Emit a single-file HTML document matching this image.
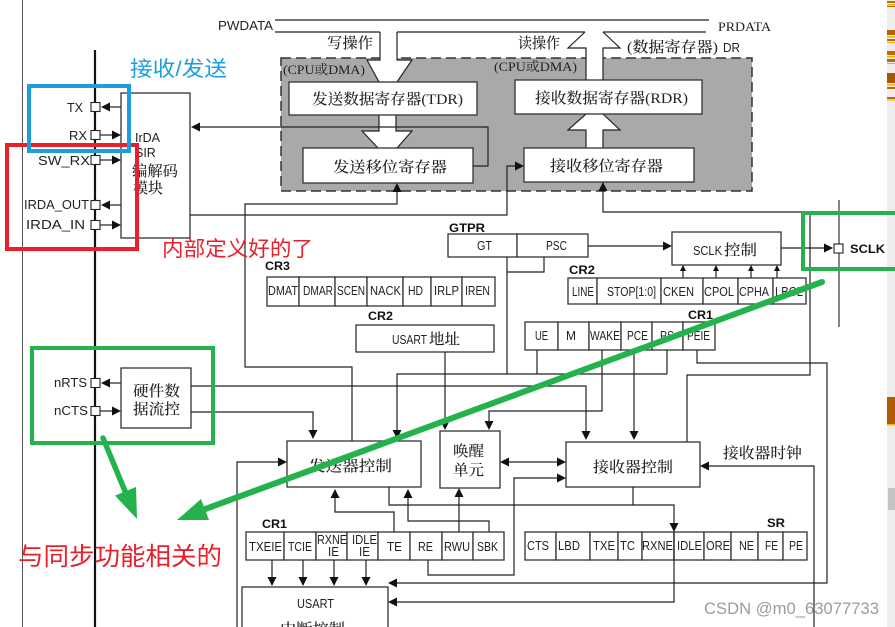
<!DOCTYPE html>
<html><head><meta charset="utf-8">
<style>
html,body{margin:0;padding:0;background:#fff;}
svg{display:block;}
.l{fill:none;stroke:#222;stroke-width:1.2;}
.b{fill:#fff;stroke:#333;stroke-width:1.3;}
.a{fill:#111;stroke:none;}
.r{font-family:"Liberation Sans",sans-serif;font-size:12.5px;fill:#222;}
.c{font-family:"Liberation Serif","Noto Serif CJK SC",serif;font-size:15px;fill:#222;font-weight:500;}
.s{font-family:"Liberation Serif","Noto Serif CJK SC",serif;font-size:13px;fill:#222;}
.bd{font-family:"Liberation Sans",sans-serif;font-weight:bold;font-size:12px;fill:#111;}
.ann{font-family:"Liberation Sans","Noto Sans CJK SC",sans-serif;}
</style></head><body>
<svg width="895" height="627" viewBox="0 0 895 627" xmlns="http://www.w3.org/2000/svg">
<rect width="895" height="627" fill="#fff"/>

<!-- right strip -->
<rect x="887" y="0" width="8" height="627" fill="#ededed"/>
<rect x="887" y="1" width="8" height="2" fill="#c06a00"/>
<rect x="887" y="4" width="8" height="1.5" fill="#e8b400"/>
<rect x="887" y="6" width="8" height="1" fill="#c06a00"/>
<rect x="887" y="30" width="8" height="5" fill="#b45f00"/>
<rect x="887" y="36" width="8" height="1.5" fill="#e8b400"/>
<rect x="887" y="39" width="8" height="2" fill="#c06a00"/>
<rect x="887" y="42" width="8" height="1" fill="#e8b400"/>
<rect x="887" y="51" width="8" height="4" fill="#c06a00"/>
<rect x="887" y="56" width="8" height="1.5" fill="#e8b400"/>
<rect x="887" y="59" width="8" height="3" fill="#c06a00"/>
<rect x="887" y="63" width="8" height="1" fill="#e8b400"/>
<rect x="887" y="73" width="8" height="10" fill="#a85800"/>
<rect x="887" y="84" width="8" height="1.5" fill="#e8b400"/>
<rect x="887" y="87" width="8" height="2" fill="#c06a00"/>
<rect x="887" y="97" width="8" height="2" fill="#c06a00"/>
<rect x="887" y="99.5" width="8" height="1" fill="#e8b400"/>
<rect x="887" y="397" width="8" height="27" fill="#b05c00"/>
<rect x="887" y="424" width="8" height="1.5" fill="#e8c000"/>
<rect x="888" y="488" width="7" height="22" fill="#c4c4c4"/>

<!-- left lines -->
<line x1="22.5" y1="0" x2="22.5" y2="627" stroke="#555" stroke-width="1"/>
<line x1="95" y1="50" x2="95" y2="627" stroke="#111" stroke-width="2.2"/>

<!-- bus -->
<line x1="275" y1="20" x2="709" y2="20" class="l"/>
<path class="l" d="M275 32H380M397 32H585M603 32H706"/>
<text x="218" y="30" class="r" textLength="55" lengthAdjust="spacingAndGlyphs">PWDATA</text>
<text x="718" y="31" font-family="Liberation Serif" font-size="13" fill="#222" textLength="53" lengthAdjust="spacingAndGlyphs">PRDATA</text>
<text x="327" y="48" class="c" textLength="46" lengthAdjust="spacingAndGlyphs">写操作</text>
<text x="518" y="48" class="c" textLength="42" lengthAdjust="spacingAndGlyphs">读操作</text>
<text x="627" y="52" class="c" textLength="91" lengthAdjust="spacingAndGlyphs">(数据寄存器)</text>
<text x="723" y="52" class="r" font-size="11" textLength="17" lengthAdjust="spacingAndGlyphs">DR</text>

<!-- gray area -->
<rect x="281" y="58" width="471" height="133" fill="#a9a9a9" stroke="#333" stroke-width="1.5" stroke-dasharray="10 5"/>
<text x="283" y="74" class="s" textLength="82" lengthAdjust="spacingAndGlyphs">(CPU或DMA)</text>
<text x="494" y="71" class="s" textLength="83" lengthAdjust="spacingAndGlyphs">(CPU或DMA)</text>

<!-- block arrows -->
<polygon points="380,32 380,60 367,60 379,82 397,82 412,60 397,60 397,32" fill="#fff"/>
<polyline class="l" points="380,32 380,60 367,60 379,82"/>
<polyline class="l" points="397,32 397,60 412,60 397,82"/>
<polygon points="586,80 586,48 568,48 585,32 603,32 620,48 603,48 603,80" fill="#fff"/>
<polyline class="l" points="586,80 586,48 568,48 585,32"/>
<polyline class="l" points="603,80 603,48 620,48 603,32"/>
<polygon points="379,115 379,131 362,131 378,148 397,148 412,131 396,131 396,115" fill="#fff"/>
<polyline class="l" points="379,115 379,131 362,131 378,148"/>
<polyline class="l" points="396,115 396,131 412,131 397,148"/>
<polygon points="586,148 586,130 568,130 586,114 603,114 620,130 603,130 603,148" fill="#fff"/>
<polyline class="l" points="586,148 586,130 568,130 586,114"/>
<polyline class="l" points="603,148 603,130 620,130 603,114"/>

<!-- gray boxes -->
<rect class="b" x="289" y="82" width="188" height="33"/>
<rect class="b" x="303" y="148" width="170" height="35"/>
<rect class="b" x="515" y="80" width="187" height="34"/>
<rect class="b" x="524" y="148" width="170" height="34"/>
<text x="312" y="104" class="c" textLength="151" lengthAdjust="spacingAndGlyphs">发送数据寄存器(TDR)</text>
<text x="333" y="172" class="c" textLength="114" lengthAdjust="spacingAndGlyphs">发送移位寄存器</text>
<text x="535" y="103" class="c" textLength="153" lengthAdjust="spacingAndGlyphs">接收数据寄存器(RDR)</text>
<text x="550" y="171" class="c" textLength="113" lengthAdjust="spacingAndGlyphs">接收移位寄存器</text>

<!-- IrDA box -->
<rect class="b" x="121" y="93" width="69" height="145"/>
<text x="135" y="142" class="r" font-size="13.5">IrDA</text>
<text x="135" y="157" class="r" font-size="13.5">SIR</text>
<text x="132" y="176" class="c" textLength="46" lengthAdjust="spacingAndGlyphs">编解码</text>
<text x="133" y="193" class="c" textLength="30" lengthAdjust="spacingAndGlyphs">模块</text>

<!-- pins -->
<g class="l">
<line x1="110" y1="107" x2="121" y2="107"/>
<line x1="100" y1="135" x2="112" y2="135"/>
<line x1="100" y1="160" x2="112" y2="160"/>
<line x1="110" y1="205" x2="121" y2="205"/>
<line x1="100" y1="225" x2="112" y2="225"/>
<line x1="110" y1="383" x2="121" y2="383"/>
<line x1="100" y1="411" x2="112" y2="411"/>
</g>
<polygon class="a" points="101,107 110,102.5 110,111.5"/>
<polygon class="a" points="121,135 112,130.5 112,139.5"/>
<polygon class="a" points="121,160 112,155.5 112,164.5"/>
<polygon class="a" points="101,205 110,200.5 110,209.5"/>
<polygon class="a" points="121,225 112,220.5 112,229.5"/>
<polygon class="a" points="101,383 110,378.5 110,387.5"/>
<polygon class="a" points="121,411 112,406.5 112,415.5"/>
<g fill="#fff" stroke="#222" stroke-width="1.1">
<rect x="91" y="102.5" width="9" height="9"/>
<rect x="91" y="130.5" width="9" height="9"/>
<rect x="91" y="155.5" width="9" height="9"/>
<rect x="91" y="200.5" width="9" height="9"/>
<rect x="91" y="220.5" width="9" height="9"/>
<rect x="91" y="378.5" width="9" height="9"/>
<rect x="91" y="406.5" width="9" height="9"/>
</g>
<text x="67" y="112" class="r" textLength="16" lengthAdjust="spacingAndGlyphs">TX</text>
<text x="69" y="140" class="r" textLength="18" lengthAdjust="spacingAndGlyphs">RX</text>
<text x="38" y="165" class="r" textLength="52" lengthAdjust="spacingAndGlyphs">SW_RX</text>
<text x="24" y="209" class="r" textLength="65" lengthAdjust="spacingAndGlyphs">IRDA_OUT</text>
<text x="26" y="229" class="r" textLength="59" lengthAdjust="spacingAndGlyphs">IRDA_IN</text>
<text x="54" y="387" class="r" textLength="33" lengthAdjust="spacingAndGlyphs">nRTS</text>
<text x="54" y="415" class="r" textLength="34" lengthAdjust="spacingAndGlyphs">nCTS</text>

<!-- hardware flow box -->
<rect class="b" x="121" y="368" width="70" height="60"/>
<text x="133" y="396" class="c" textLength="47" lengthAdjust="spacingAndGlyphs">硬件数</text>
<text x="133" y="414" class="c" textLength="47" lengthAdjust="spacingAndGlyphs">据流控</text>

<!-- top connectors -->
<polyline class="l" points="473,166 488,166 488,127 200,127"/>
<polygon class="a" points="191,127 200,122.5 200,131.5"/>
<polyline class="l" points="190,215 507,215 507,166 515,166"/>
<polygon class="a" points="524,166 515,161.5 515,170.5"/>
<polyline class="l" points="352,441 352,367 245,367 245,204 397,204 397,192"/>
<polygon class="a" points="397,183 392.5,192 401.5,192"/>
<polyline class="l" points="687,442 687,375 810,375 810,212 603,212 603,191"/>
<polygon class="a" points="603,182 598.5,191 607.5,191"/>

<!-- GTPR -->
<text x="449" y="232" class="bd" textLength="36" lengthAdjust="spacingAndGlyphs">GTPR</text>
<rect class="b" x="448" y="234" width="69" height="23"/>
<rect class="b" x="517" y="234" width="71" height="23"/>
<text x="477" y="250" class="r" textLength="15" lengthAdjust="spacingAndGlyphs">GT</text>
<text x="546" y="250" class="r" textLength="21" lengthAdjust="spacingAndGlyphs">PSC</text>
<polyline class="l" points="507,257 507,374"/>
<polyline class="l" points="507,272 544,272 544,257"/>
<line class="l" x1="588" y1="246" x2="663" y2="246"/>
<polygon class="a" points="672,246 663,241.5 663,250.5"/>

<!-- SCLK -->
<rect class="b" x="672" y="232" width="109" height="33"/>
<text x="693" y="255" class="r" font-size="12" textLength="29" lengthAdjust="spacingAndGlyphs">SCLK</text>
<text x="724" y="255" class="c" font-size="16" textLength="33" lengthAdjust="spacingAndGlyphs">控制</text>
<line class="l" x1="781" y1="248" x2="824" y2="248"/>
<polygon class="a" points="833,248 824,243.5 824,252.5"/>
<line x1="839" y1="200" x2="839" y2="327" stroke="#333" stroke-width="1.2"/>
<rect x="834" y="244" width="9" height="9" fill="#fff" stroke="#222" stroke-width="1.1"/>
<text x="850" y="253" class="bd" font-size="12.5" textLength="35" lengthAdjust="spacingAndGlyphs">SCLK</text>
<g class="l">
<line x1="683" y1="271" x2="683" y2="278"/>
<line x1="716" y1="271" x2="716" y2="278"/>
<line x1="751" y1="271" x2="751" y2="278"/>
<line x1="777" y1="271" x2="777" y2="278"/>
</g>
<polygon class="a" points="683,265 680,271 686,271"/>
<polygon class="a" points="716,265 713,271 719,271"/>
<polygon class="a" points="751,265 748,271 754,271"/>
<polygon class="a" points="777,265 774,271 780,271"/>

<!-- CR3 -->
<text x="265" y="270" class="bd" textLength="25" lengthAdjust="spacingAndGlyphs">CR3</text>
<g class="b">
<rect x="267" y="277" width="32" height="29"/>
<rect x="299" y="277" width="36" height="29"/>
<rect x="335" y="277" width="32" height="29"/>
<rect x="367" y="277" width="36" height="29"/>
<rect x="403" y="277" width="28" height="29"/>
<rect x="431" y="277" width="31" height="29"/>
<rect x="462" y="277" width="33" height="29"/>
</g>
<text x="268" y="295" class="r" textLength="30" lengthAdjust="spacingAndGlyphs">DMAT</text>
<text x="303" y="295" class="r" textLength="30" lengthAdjust="spacingAndGlyphs">DMAR</text>
<text x="337" y="295" class="r" textLength="28" lengthAdjust="spacingAndGlyphs">SCEN</text>
<text x="370" y="295" class="r" textLength="31" lengthAdjust="spacingAndGlyphs">NACK</text>
<text x="408" y="295" class="r" textLength="15" lengthAdjust="spacingAndGlyphs">HD</text>
<text x="434" y="295" class="r" textLength="25" lengthAdjust="spacingAndGlyphs">IRLP</text>
<text x="465" y="295" class="r" textLength="25" lengthAdjust="spacingAndGlyphs">IREN</text>

<!-- CR2 mid -->
<text x="368" y="320" class="bd" textLength="25" lengthAdjust="spacingAndGlyphs">CR2</text>
<rect class="b" x="356" y="325" width="138" height="27"/>
<text x="392" y="344" class="r" font-size="12" textLength="35" lengthAdjust="spacingAndGlyphs">USART</text>
<text x="429" y="344" class="c" font-size="16" textLength="31" lengthAdjust="spacingAndGlyphs">地址</text>

<!-- CR2 right -->
<text x="569" y="274" class="bd" textLength="26" lengthAdjust="spacingAndGlyphs">CR2</text>
<g class="b">
<rect x="568" y="278" width="29" height="26"/>
<rect x="597" y="278" width="64" height="26"/>
<rect x="661" y="278" width="42" height="26"/>
<rect x="703" y="278" width="35" height="26"/>
<rect x="738" y="278" width="35" height="26"/>
<rect x="773" y="278" width="33" height="26"/>
</g>
<text x="572" y="296" class="r" textLength="22" lengthAdjust="spacingAndGlyphs">LINE</text>
<text x="607" y="296" class="r" textLength="49" lengthAdjust="spacingAndGlyphs">STOP[1:0]</text>
<text x="663" y="296" class="r" textLength="31" lengthAdjust="spacingAndGlyphs">CKEN</text>
<text x="704" y="296" class="r" textLength="30" lengthAdjust="spacingAndGlyphs">CPOL</text>
<text x="739" y="296" class="r" textLength="30" lengthAdjust="spacingAndGlyphs">CPHA</text>
<text x="775" y="296" class="r" textLength="28" lengthAdjust="spacingAndGlyphs">LBCL</text>

<!-- CR1 right -->
<text x="688" y="319" class="bd" textLength="25" lengthAdjust="spacingAndGlyphs">CR1</text>
<g class="b">
<rect x="525" y="322" width="33" height="28"/>
<rect x="558" y="322" width="31" height="28"/>
<rect x="589" y="322" width="32" height="28"/>
<rect x="621" y="322" width="31" height="28"/>
<rect x="652" y="322" width="31" height="28"/>
<rect x="683" y="322" width="32" height="28"/>
</g>
<text x="535" y="340" class="r" textLength="13" lengthAdjust="spacingAndGlyphs">UE</text>
<text x="566" y="340" class="r" textLength="10" lengthAdjust="spacingAndGlyphs">M</text>
<text x="590" y="340" class="r" textLength="30" lengthAdjust="spacingAndGlyphs">WAKE</text>
<text x="627" y="340" class="r" textLength="21" lengthAdjust="spacingAndGlyphs">PCE</text>
<text x="660" y="340" class="r" textLength="14" lengthAdjust="spacingAndGlyphs">PS</text>
<text x="687" y="340" class="r" textLength="23" lengthAdjust="spacingAndGlyphs">PEIE</text>

<!-- middle connectors -->
<polyline class="l" points="537,350 537,374"/>
<polyline class="l" points="667,350 667,374"/>
<polyline class="l" points="667,374 397,374 397,430"/>
<polygon class="a" points="397,439 392.5,430 401.5,430"/>
<polyline class="l" points="602,350 602,411 489,411 489,421"/>
<polygon class="a" points="489,430 484.5,421 493.5,421"/>
<polyline class="l" points="445,352 445,421"/>
<polygon class="a" points="445,430 440.5,421 449.5,421"/>
<polyline class="l" points="634,350 634,431"/>
<polygon class="a" points="634,440 629.5,431 638.5,431"/>
<polyline class="l" points="697,350 697,363 827,363 827,583 397,583"/>
<polygon class="a" points="388,583 397,578.5 397,587.5"/>
<polyline class="l" points="191,386 586,386 586,431"/>
<polygon class="a" points="586,440 581.5,431 590.5,431"/>
<polyline class="l" points="191,412 313,412 313,430"/>
<polygon class="a" points="313,439 308.5,430 317.5,430"/>

<!-- control boxes -->
<rect class="b" x="287" y="441" width="134" height="46"/>
<text x="309" y="471" class="c" textLength="83" lengthAdjust="spacingAndGlyphs">发送器控制</text>
<rect class="b" x="440" y="431" width="60" height="57"/>
<text x="453" y="456" class="c" textLength="31" lengthAdjust="spacingAndGlyphs">唤醒</text>
<text x="453" y="475" class="c" textLength="31" lengthAdjust="spacingAndGlyphs">单元</text>
<rect class="b" x="566" y="442" width="134" height="45"/>
<text x="593" y="472" class="c" textLength="80" lengthAdjust="spacingAndGlyphs">接收器控制</text>
<text x="723" y="458" class="c" textLength="79" lengthAdjust="spacingAndGlyphs">接收器时钟</text>

<!-- lower connectors -->
<line class="l" x1="509" y1="462" x2="557" y2="462"/>
<polygon class="a" points="500,462 509,457.5 509,466.5"/>
<polygon class="a" points="566,462 557,457.5 557,466.5"/>
<polyline class="l" points="428,560 428,575 514,575 514,478 557,478"/>
<polygon class="a" points="566,478 557,473.5 557,482.5"/>
<polyline class="l" points="814,627 814,466 709,466"/>
<polygon class="a" points="700,466 709,461.5 709,470.5"/>
<polyline class="l" points="237,627 237,462 278,462"/>
<polygon class="a" points="287,462 278,457.5 278,466.5"/>
<polyline class="l" points="389,487 389,505 674,505 674,523"/>
<polygon class="a" points="674,532 669.5,523 678.5,523"/>
<polyline class="l" points="633,487 633,505"/>
<polyline class="l" points="674,532 674,602 397,602"/>
<polygon class="a" points="388,602 397,597.5 397,606.5"/>
<polyline class="l" points="394,532 394,512 335,512 335,498"/>
<polygon class="a" points="335,489 330.5,498 339.5,498"/>
<polyline class="l" points="489,532 489,521 408,521 408,498"/>
<polygon class="a" points="408,489 403.5,498 412.5,498"/>
<polyline class="l" points="459,532 459,497"/>
<polygon class="a" points="459,488 454.5,497 463.5,497"/>

<!-- CR1 bottom -->
<text x="262" y="528" class="bd" textLength="25" lengthAdjust="spacingAndGlyphs">CR1</text>
<g class="b">
<rect x="246" y="532" width="38" height="28"/>
<rect x="284" y="532" width="32" height="28"/>
<rect x="316" y="532" width="31" height="28"/>
<rect x="347" y="532" width="31" height="28"/>
<rect x="378" y="532" width="32" height="28"/>
<rect x="410" y="532" width="32" height="28"/>
<rect x="442" y="532" width="31" height="28"/>
<rect x="473" y="532" width="31" height="28"/>
</g>
<text x="249" y="551" class="r" textLength="33" lengthAdjust="spacingAndGlyphs">TXEIE</text>
<text x="288" y="551" class="r" textLength="24" lengthAdjust="spacingAndGlyphs">TCIE</text>
<text x="317" y="544" class="r" textLength="30" lengthAdjust="spacingAndGlyphs">RXNE</text>
<text x="328" y="556" class="r" textLength="11" lengthAdjust="spacingAndGlyphs">IE</text>
<text x="352" y="544" class="r" textLength="25" lengthAdjust="spacingAndGlyphs">IDLE</text>
<text x="359" y="556" class="r" textLength="11" lengthAdjust="spacingAndGlyphs">IE</text>
<text x="387" y="551" class="r" textLength="15" lengthAdjust="spacingAndGlyphs">TE</text>
<text x="418" y="551" class="r" textLength="15" lengthAdjust="spacingAndGlyphs">RE</text>
<text x="444" y="551" class="r" textLength="26" lengthAdjust="spacingAndGlyphs">RWU</text>
<text x="477" y="551" class="r" textLength="21" lengthAdjust="spacingAndGlyphs">SBK</text>
<g class="l">
<line x1="272" y1="560" x2="272" y2="577"/>
<line x1="303" y1="560" x2="303" y2="577"/>
<line x1="334" y1="560" x2="334" y2="577"/>
<line x1="366" y1="560" x2="366" y2="577"/>
</g>
<polygon class="a" points="272,586 267.5,577 276.5,577"/>
<polygon class="a" points="303,586 298.5,577 307.5,577"/>
<polygon class="a" points="334,586 329.5,577 338.5,577"/>
<polygon class="a" points="366,586 361.5,577 370.5,577"/>

<!-- USART interrupt -->
<rect class="b" x="242" y="587" width="146" height="60"/>
<text x="297" y="608" class="r" textLength="37" lengthAdjust="spacingAndGlyphs">USART</text>
<text x="280" y="634" class="c" font-size="16" textLength="65" lengthAdjust="spacingAndGlyphs">中断控制</text>

<!-- SR -->
<text x="767" y="527" class="bd" textLength="18" lengthAdjust="spacingAndGlyphs">SR</text>
<g class="b">
<rect x="525" y="532" width="31" height="28"/>
<rect x="556" y="532" width="34" height="28"/>
<rect x="590" y="532" width="28" height="28"/>
<rect x="618" y="532" width="24" height="28"/>
<rect x="642" y="532" width="32" height="28"/>
<rect x="674" y="532" width="30" height="28"/>
<rect x="704" y="532" width="27" height="28"/>
<rect x="731" y="532" width="27" height="28"/>
<rect x="758" y="532" width="25" height="28"/>
<rect x="783" y="532" width="24" height="28"/>
</g>
<line class="l" x1="674" y1="532" x2="674" y2="560"/>
<text x="527" y="550" class="r" textLength="22" lengthAdjust="spacingAndGlyphs">CTS</text>
<text x="558" y="550" class="r" textLength="22" lengthAdjust="spacingAndGlyphs">LBD</text>
<text x="593" y="550" class="r" textLength="22" lengthAdjust="spacingAndGlyphs">TXE</text>
<text x="620" y="550" class="r" textLength="15" lengthAdjust="spacingAndGlyphs">TC</text>
<text x="642" y="550" class="r" textLength="31" lengthAdjust="spacingAndGlyphs">RXNE</text>
<text x="677" y="550" class="r" textLength="25" lengthAdjust="spacingAndGlyphs">IDLE</text>
<text x="706" y="550" class="r" textLength="24" lengthAdjust="spacingAndGlyphs">ORE</text>
<text x="739" y="550" class="r" textLength="15" lengthAdjust="spacingAndGlyphs">NE</text>
<text x="765" y="550" class="r" textLength="13" lengthAdjust="spacingAndGlyphs">FE</text>
<text x="789" y="550" class="r" textLength="14" lengthAdjust="spacingAndGlyphs">PE</text>

<!-- watermark -->
<text x="704" y="614" font-family="Liberation Sans, sans-serif" font-size="16.5" fill="#9c9c9c" textLength="175" lengthAdjust="spacingAndGlyphs">CSDN @m0_63077733</text>

<!-- annotations -->
<rect x="7" y="145" width="130" height="104" fill="none" stroke="#e8202a" stroke-width="4"/>
<rect x="29" y="86" width="100" height="65" fill="none" stroke="#1a9ee0" stroke-width="4"/>
<rect x="32" y="348" width="181" height="95" fill="none" stroke="#24b24c" stroke-width="4"/>
<rect x="803" y="213" width="94" height="56" fill="none" stroke="#24b24c" stroke-width="4"/>
<text x="130" y="76" class="ann" font-size="21" fill="#1a9ee0" textLength="97" lengthAdjust="spacingAndGlyphs">接收/发送</text>
<text x="162" y="256" class="ann" font-size="21" fill="#e8202a" textLength="151" lengthAdjust="spacingAndGlyphs">内部定义好的了</text>
<text x="18" y="565" class="ann" font-size="25" fill="#e8202a" textLength="204" lengthAdjust="spacingAndGlyphs">与同步功能相关的</text>

<!-- green arrows -->
<line x1="103" y1="438" x2="127" y2="496" stroke="#24b24c" stroke-width="5.5" stroke-linecap="round"/>
<polygon points="137,519 115,495.6 136,487" fill="#24b24c"/>
<line x1="822" y1="282" x2="200" y2="511" stroke="#24b24c" stroke-width="6" stroke-linecap="round"/>
<polygon points="177,520 201,499 209,520" fill="#24b24c"/>
</svg>
</body></html>
